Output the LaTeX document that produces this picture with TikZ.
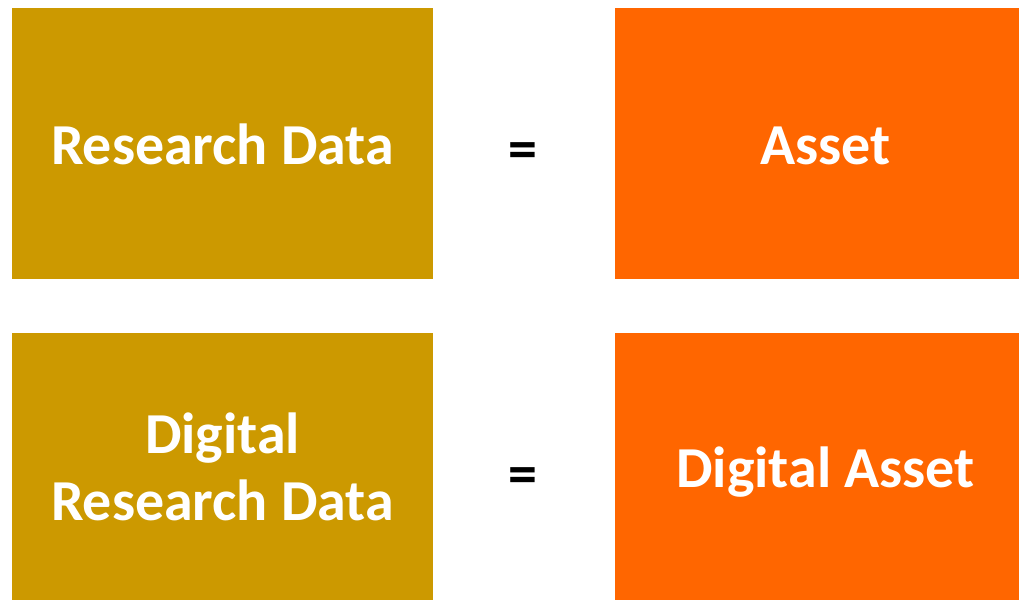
\documentclass[tikz,border=0pt]{standalone}
\usepackage{fontspec}
\setmainfont{Carlito}
\usetikzlibrary{positioning}

\definecolor{datagold}{HTML}{CC9900}
\definecolor{assetorange}{HTML}{FF6600}

% one line of box text, sitting a bit below the middle
\newcommand{\boxline}[1]{\raisebox{-11.7pt}[0pt][0pt]{#1}}
% two lines of box text
\newcommand{\boxlines}[2]{\raisebox{-30.7pt}[0pt][0pt]{\parbox[b]{8cm}{\centering\baselineskip=38pt #1\\#2}}}

\tikzset{
    databox/.style={fill=datagold, text=white, minimum width=8.42cm, minimum height=5.42cm,
        inner sep=0pt, align=center, font=\bfseries\fontsize{33}{38}\selectfont},
    assetbox/.style={databox, fill=assetorange},
    equal/.style={inner sep=0pt, font=\bfseries\fontsize{33}{38}\selectfont}
}

\begin{document}
\begin{tikzpicture}[x=0.02cm, y=-0.02cm]

    \useasboundingbox (0,0) rectangle (1019,601);

    % row 1
    \node[databox] (rd) at (222.5,143.5) {\boxline{Research Data}};
    \node[equal] (eq1) at (523,156) {=};
    \node[assetbox] (as) at (825.5,143.5) {\boxline{Asset}};

    % row 2
    \node[databox, minimum height=5.34cm] (drd) at (222.5,466.5) {\boxlines{Digital}{Research Data}};
    \node[equal] (eq2) at (523,481) {=};
    \node[assetbox, minimum height=5.34cm] (das) at (825.5,466.5) {\boxline{Digital Asset}};

\end{tikzpicture}
\end{document}
